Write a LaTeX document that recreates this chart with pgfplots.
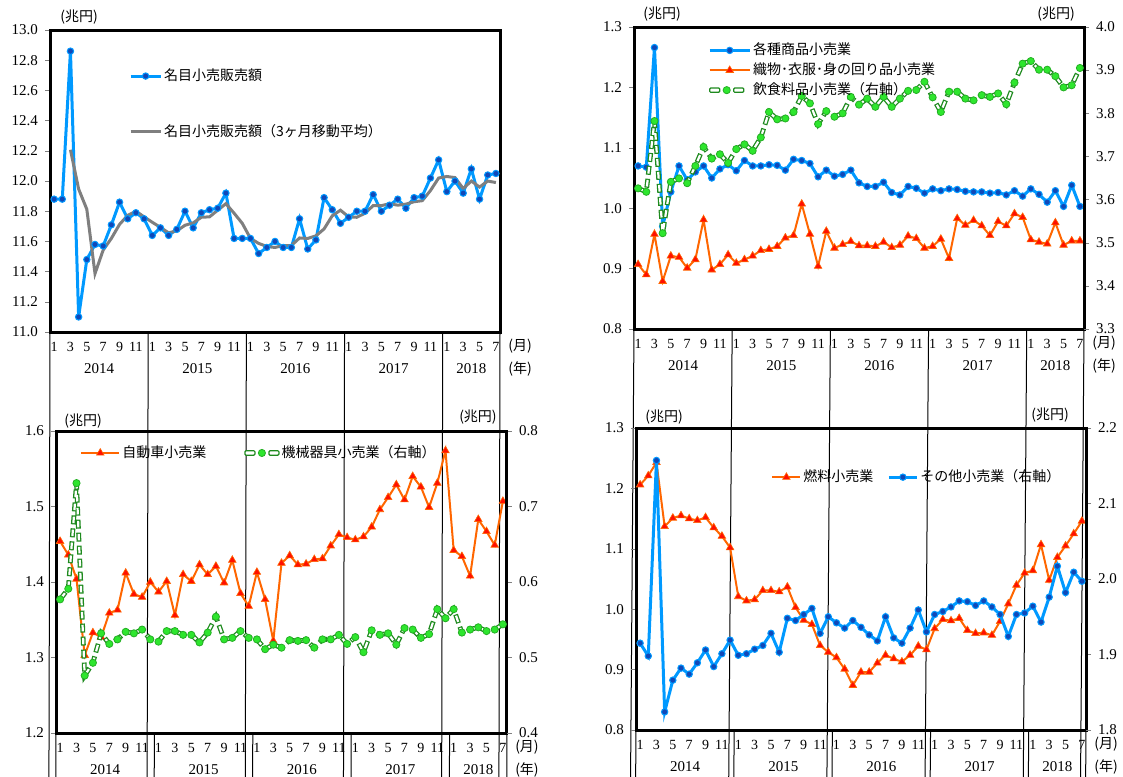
\documentclass[border=0pt]{standalone}
\usepackage{pgfplots}
\pgfplotsset{compat=1.18}
\usepackage{pgfplotstable}
\usepackage{fontspec}
\setmainfont{Liberation Serif}
\newfontfamily\cjk{Noto Sans CJK JP}

\definecolor{cblue}{HTML}{0099FF}
\definecolor{cbluemk}{HTML}{1048B8}
\definecolor{corange}{HTML}{FF6600}
\definecolor{cred}{HTML}{FF1000}
\definecolor{cgreen}{HTML}{1E8A1E}
\definecolor{cgreenmk}{HTML}{2EE62E}
\definecolor{cgray}{HTML}{7F7F7F}

\pgfplotstableread{
m nom ma
1 11.88 nan
2 11.88 nan
3 12.86 12.207
4 11.10 11.947
5 11.48 11.813
6 11.58 11.387
7 11.57 11.543
8 11.71 11.620
9 11.86 11.713
10 11.75 11.773
11 11.79 11.800
12 11.75 11.763
13 11.64 11.727
14 11.69 11.693
15 11.64 11.657
16 11.68 11.670
17 11.80 11.707
18 11.69 11.723
19 11.79 11.760
20 11.81 11.763
21 11.82 11.807
22 11.92 11.850
23 11.62 11.787
24 11.62 11.720
25 11.62 11.620
26 11.52 11.587
27 11.56 11.567
28 11.60 11.560
29 11.56 11.573
30 11.56 11.573
31 11.75 11.623
32 11.55 11.620
33 11.61 11.637
34 11.89 11.683
35 11.81 11.770
36 11.72 11.807
37 11.76 11.763
38 11.80 11.760
39 11.80 11.787
40 11.91 11.837
41 11.80 11.837
42 11.84 11.850
43 11.88 11.840
44 11.82 11.847
45 11.89 11.863
46 11.90 11.870
47 12.02 11.937
48 12.14 12.020
49 11.93 12.030
50 12.00 12.023
51 11.92 11.950
52 12.08 12.000
53 11.88 11.960
54 12.04 12.000
55 12.05 11.990
}\tabA

\pgfplotstableread{
m A B C
1 1.070 0.907 3.626
2 1.068 0.890 3.618
3 1.266 0.957 3.782
4 0.970 0.879 3.522
5 1.027 0.921 3.641
6 1.070 0.919 3.649
7 1.047 0.901 3.638
8 1.060 0.915 3.678
9 1.070 0.981 3.722
10 1.050 0.898 3.695
11 1.065 0.907 3.705
12 1.072 0.923 3.685
13 1.062 0.909 3.717
14 1.079 0.915 3.728
15 1.070 0.921 3.713
16 1.070 0.930 3.744
17 1.072 0.932 3.803
18 1.071 0.937 3.786
19 1.063 0.951 3.788
20 1.081 0.955 3.803
21 1.079 1.007 3.840
22 1.074 0.957 3.823
23 1.052 0.904 3.775
24 1.063 0.962 3.805
25 1.053 0.934 3.792
26 1.056 0.940 3.800
27 1.063 0.945 3.838
28 1.042 0.938 3.820
29 1.036 0.938 3.834
30 1.036 0.937 3.815
31 1.043 0.944 3.838
32 1.026 0.935 3.815
33 1.022 0.939 3.834
34 1.036 0.954 3.852
35 1.033 0.950 3.854
36 1.025 0.934 3.873
37 1.032 0.937 3.837
38 1.029 0.949 3.803
39 1.032 0.917 3.850
40 1.031 0.983 3.850
41 1.028 0.972 3.834
42 1.027 0.980 3.830
43 1.027 0.971 3.842
44 1.025 0.955 3.838
45 1.026 0.978 3.846
46 1.022 0.971 3.821
47 1.029 0.991 3.871
48 1.020 0.985 3.915
49 1.032 0.948 3.921
50 1.023 0.944 3.901
51 1.010 0.941 3.901
52 1.029 0.976 3.886
53 1.003 0.939 3.860
54 1.038 0.946 3.865
55 1.003 0.946 3.905
}\tabB

\pgfplotstableread{
m jid kik
1 1.454 0.577
2 1.436 0.591
3 1.404 0.731
4 1.303 0.476
5 1.333 0.493
6 1.327 0.532
7 1.359 0.518
8 1.363 0.524
9 1.412 0.534
10 1.384 0.532
11 1.380 0.537
12 1.400 0.524
13 1.387 0.521
14 1.401 0.535
15 1.356 0.535
16 1.410 0.530
17 1.401 0.530
18 1.423 0.520
19 1.410 0.533
20 1.421 0.554
21 1.399 0.524
22 1.429 0.526
23 1.385 0.535
24 1.368 0.526
25 1.413 0.524
26 1.377 0.511
27 1.322 0.517
28 1.425 0.513
29 1.435 0.523
30 1.423 0.522
31 1.424 0.523
32 1.430 0.513
33 1.431 0.524
34 1.448 0.524
35 1.463 0.530
36 1.459 0.518
37 1.456 0.527
38 1.460 0.507
39 1.473 0.536
40 1.496 0.530
41 1.512 0.532
42 1.529 0.517
43 1.509 0.539
44 1.540 0.537
45 1.526 0.526
46 1.499 0.531
47 1.531 0.564
48 1.574 0.552
49 1.442 0.564
50 1.434 0.533
51 1.408 0.537
52 1.483 0.540
53 1.467 0.535
54 1.449 0.537
55 1.507 0.544
}\tabC

\pgfplotstableread{
m nen son
1 1.206 1.915
2 1.221 1.898
3 1.243 2.157
4 1.137 1.824
5 1.151 1.866
6 1.155 1.882
7 1.150 1.874
8 1.147 1.889
9 1.152 1.906
10 1.135 1.884
11 1.121 1.901
12 1.102 1.919
13 1.021 1.899
14 1.014 1.901
15 1.016 1.907
16 1.031 1.912
17 1.031 1.928
18 1.029 1.903
19 1.037 1.948
20 1.003 1.945
21 0.982 1.953
22 0.975 1.961
23 0.940 1.928
24 0.929 1.950
25 0.920 1.942
26 0.901 1.935
27 0.874 1.945
28 0.896 1.936
29 0.896 1.926
30 0.911 1.918
31 0.924 1.950
32 0.918 1.922
33 0.913 1.915
34 0.924 1.935
35 0.939 1.959
36 0.933 1.930
37 0.968 1.953
38 0.983 1.957
39 0.981 1.963
40 0.985 1.971
41 0.965 1.970
42 0.960 1.965
43 0.961 1.971
44 0.957 1.963
45 0.980 1.953
46 1.009 1.924
47 1.040 1.953
48 1.060 1.955
49 1.064 1.964
50 1.107 1.943
51 1.048 1.976
52 1.086 2.017
53 1.105 1.982
54 1.125 2.009
55 1.146 1.997
}\tabD

\tikzset{
  cjklab/.style={font=\cjk\fontsize{7}{8}\selectfont, inner sep=0pt},
  yrlab/.style={font=\fontsize{7.5}{9}\selectfont, inner sep=0pt},
}

\pgfplotsset{
  base/.style={scale only axis, width=225pt, height=151pt, xmin=0.5, xmax=55.5, clip=false,
    tick label style={font=\fontsize{7.5}{9}\selectfont},
    major tick length=2.5pt, tick align=outside,
    axis line style={line width=1.5pt},
    /pgf/number format/fixed, /pgf/number format/fixed zerofill,
    /pgf/number format/precision=1, /pgf/number format/assume math mode=true,
    legend style={draw=none, fill=none, font=\cjk\fontsize{7}{8}\selectfont,
      inner sep=0pt, nodes={inner sep=1pt}, cells={anchor=west}},
  },
  mainax/.style={base,
    xtick={1,3,...,55},
    xticklabels={1,3,5,7,9,11,1,3,5,7,9,11,1,3,5,7,9,11,1,3,5,7,9,11,1,3,5,7},
    major x tick style={draw=none},
    xticklabel style={anchor=center, yshift=-5pt, font=\fontsize{7}{8}\selectfont},
    ytick pos=left},
  rightax/.style={base, axis x line=none, axis y line*=right, ytick pos=right},
  leg/.style={legend image code/.code={\draw[mark repeat=2,mark phase=2,##1] plot coordinates {(0pt,0pt) (#1/2,0pt) (#1,0pt)};}},
  greenleg/.style={legend image code/.code={
      \draw[cgreen, line width=0.6pt, fill=white, rounded corners=0.5pt] (0pt,-1.1pt) rectangle (5pt,1.1pt);
      \draw[cgreen!60!cgreenmk, line width=0.4pt, fill=cgreenmk] (8.5pt,0pt) circle (1.8pt);
      \draw[cgreen, line width=0.6pt, fill=white, rounded corners=0.5pt] (12pt,-1.1pt) rectangle (17pt,1.1pt);
    }},
  sblue/.style={cblue, line width=1.5pt, mark=*, mark size=1.6pt,
    mark options={solid, fill=cbluemk, draw=cblue, line width=0.5pt}},
  sorange/.style={corange, line width=1pt, mark=triangle*, mark size=2.2pt,
    mark options={solid, fill=cred, draw=corange, line width=0.3pt}},
  sgreen/.style={cgreen, line width=2.4pt, dash pattern=on 4.5pt off 2pt, no marks,
    postaction={draw=white, line width=1.1pt, dash pattern=on 3.3pt off 3.2pt, dash phase=5.9pt}, forget plot},
  sgreenmk/.style={only marks, mark=*, mark size=1.8pt,
    mark options={solid, fill=cgreenmk, draw=cgreen!60!cgreenmk, line width=0.4pt}, forget plot},
}

\newcommand\monthdeco[1]{%
  \pgfplotsinvokeforeach{0,...,55}{\draw[line width=0.5pt] (axis cs:##1.5,#1) ++(0,1.5pt) -- ++(0,-15.5pt);}%
  \pgfplotsinvokeforeach{0,12,24,36,48,55}{\draw[line width=0.5pt] (axis cs:##1.5,#1) -- ++(0,-24pt);}%
  \node[yrlab] at ([yshift=-18.5pt]axis cs:6.5,#1) {2014};
  \node[yrlab] at ([yshift=-18.5pt]axis cs:18.5,#1) {2015};
  \node[yrlab] at ([yshift=-18.5pt]axis cs:30.5,#1) {2016};
  \node[yrlab] at ([yshift=-18.5pt]axis cs:42.5,#1) {2017};
  \node[yrlab] at ([yshift=-18.5pt]axis cs:52,#1) {2018};
  \node[cjklab] at ([xshift=10pt,yshift=-7pt]axis cs:55.5,#1) {(月)};
  \node[cjklab] at ([xshift=10pt,yshift=-18.5pt]axis cs:55.5,#1) {(年)};
}

\begin{document}
\begin{tikzpicture}
\useasboundingbox (0,0) rectangle (561.5pt,388pt);

% ---------- Panel 1 ----------
\begin{axis}[mainax, at={(25pt,222pt)}, anchor=south west,
  ymin=11.0, ymax=13.0, ytick distance=0.2,
  legend style={at={(0.175,0.88)}, anchor=north west, row sep=18.5pt}]
\addplot[sblue, leg=15pt] table[x=m, y=nom]{\tabA};
\addlegendentry{名目小売販売額}
\addplot[cgray, line width=1.5pt, leg=15pt] table[x=m, y=ma]{\tabA};
\addlegendentry{名目小売販売額（3ヶ月移動平均）}
\monthdeco{11.0}
\node[cjklab] at ([xshift=14.5pt,yshift=6.5pt]rel axis cs:0,1) {(兆円)};
\end{axis}

% ---------- Panel 2 ----------
\begin{axis}[mainax, at={(317pt,223.5pt)}, anchor=south west,
  ymin=0.8, ymax=1.3, ytick distance=0.1]
\addplot[sblue] table[x=m, y=A]{\tabB};
\addplot[sorange] table[x=m, y=B]{\tabB};
\monthdeco{0.8}
\node[cjklab] at ([xshift=14pt,yshift=6.5pt]rel axis cs:0,1) {(兆円)};
\node[cjklab] at ([xshift=-14pt,yshift=6.5pt]rel axis cs:1,1) {(兆円)};
\end{axis}
\begin{axis}[rightax, at={(317pt,223.5pt)}, anchor=south west,
  ymin=3.3, ymax=4.0, ytick distance=0.1,
  legend style={at={(0.164,0.955)}, anchor=north west, row sep=0.5pt}]
\addlegendimage{sblue, leg=20pt}
\addlegendentry{各種商品小売業}
\addlegendimage{sorange, leg=20pt}
\addlegendentry{織物･衣服･身の回り品小売業}
\addlegendimage{greenleg}
\addlegendentry{飲食料品小売業（右軸）}
\addplot[sgreen] table[x=m, y=C]{\tabB};
\addplot[sgreenmk] table[x=m, y=C]{\tabB};
\end{axis}

% ---------- Panel 3 ----------
\begin{axis}[mainax, at={(28pt,21.5pt)}, anchor=south west, width=225.5pt,
  ymin=1.2, ymax=1.6, ytick distance=0.1]
\addplot[sorange] table[x=m, y=jid]{\tabC};
\monthdeco{1.2}
\node[cjklab] at ([xshift=13.5pt,yshift=5pt]rel axis cs:0,1) {(兆円)};
\node[cjklab] at ([xshift=-14.5pt,yshift=7pt]rel axis cs:1,1) {(兆円)};
\end{axis}
\begin{axis}[rightax, at={(28pt,21.5pt)}, anchor=south west, width=225.5pt,
  ymin=0.4, ymax=0.8, ytick distance=0.1,
  legend columns=2,
  legend style={at={(0.053,0.96)}, anchor=north west, /tikz/every even column/.append style={column sep=18pt}}]
\addlegendimage{sorange, leg=19pt}
\addlegendentry{自動車小売業}
\addlegendimage{greenleg}
\addlegendentry{機械器具小売業（右軸）}
\addplot[sgreen] table[x=m, y=kik]{\tabC};
\addplot[sgreenmk] table[x=m, y=kik]{\tabC};
\end{axis}

% ---------- Panel 4 ----------
\begin{axis}[mainax, at={(318pt,23pt)}, anchor=south west,
  ymin=0.8, ymax=1.3, ytick distance=0.1]
\addplot[sorange] table[x=m, y=nen]{\tabD};
\monthdeco{0.8}
\node[cjklab] at ([xshift=14pt,yshift=5.5pt]rel axis cs:0,1) {(兆円)};
\node[cjklab] at ([xshift=-18pt,yshift=6.5pt]rel axis cs:1,1) {(兆円)};
\end{axis}
\begin{axis}[rightax, at={(318pt,23pt)}, anchor=south west,
  ymin=1.8, ymax=2.2, ytick distance=0.1,
  legend columns=2,
  legend style={at={(0.3,0.87)}, anchor=north west, /tikz/every even column/.append style={column sep=6pt}}]
\addlegendimage{sorange, leg=14pt}
\addlegendentry{燃料小売業}
\addplot[sblue, leg=14pt] table[x=m, y=son]{\tabD};
\addlegendentry{その他小売業（右軸）}
\end{axis}
\end{tikzpicture}
\end{document}
